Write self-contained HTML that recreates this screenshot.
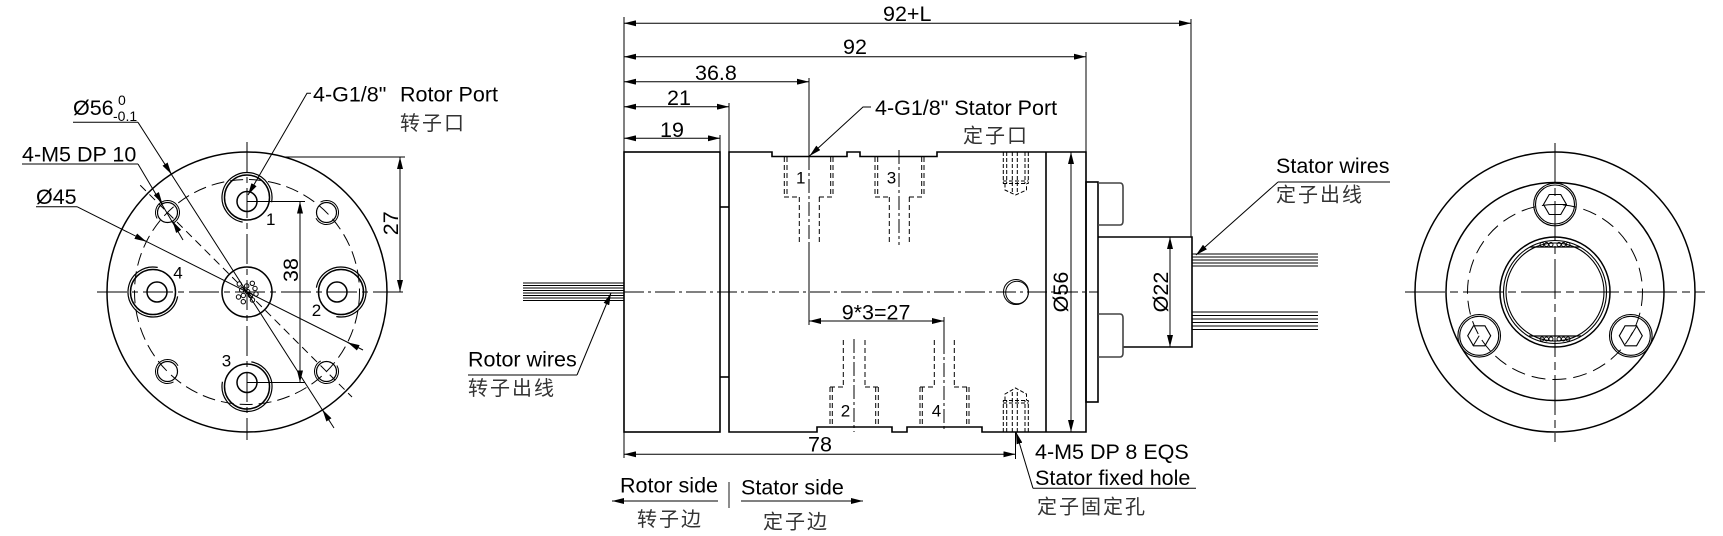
<!DOCTYPE html>
<html><head><meta charset="utf-8"><style>
html,body{margin:0;padding:0;background:#fff;}
svg{display:block;}
text{font-family:"Liberation Sans","Noto Sans CJK SC",sans-serif;fill:#000;}
.t{font-size:21.5px;}
.c{font-size:20px;fill:#333;letter-spacing:2px;}
.n{font-size:17px;}
.s{font-size:14px;}
</style></head><body>
<svg width="1723" height="536" viewBox="0 0 1723 536" xmlns="http://www.w3.org/2000/svg">
<defs>
<marker id="a" viewBox="0 0 12 6" refX="12" refY="3" markerWidth="12" markerHeight="6" orient="auto-start-reverse" markerUnits="userSpaceOnUse"><path d="M0,0L12,3L0,6z" fill="#000"/></marker>
</defs>

<!-- ================= LEFT VIEW ================= -->
<g fill="none" stroke="#000" stroke-width="1.5">
<circle cx="247" cy="292" r="140"/>
<circle cx="247" cy="292" r="25"/>
<circle cx="247" cy="292" r="112.5" stroke-width="1" stroke-dasharray="13 6"/>
<!-- ports -->
<circle cx="247" cy="201.5" r="10"/>
<circle cx="247" cy="197.5" r="22.5"/>
<circle cx="247" cy="197.5" r="25" stroke-width="1.2" stroke-dasharray="118 39.1" transform="rotate(100 247 197.5)"/>
<circle cx="337" cy="292" r="10"/>
<circle cx="341" cy="292" r="22.5"/>
<circle cx="341" cy="292" r="25" stroke-width="1.2" stroke-dasharray="118 39.1" transform="rotate(190 341 292)"/>
<circle cx="247" cy="382.5" r="10"/>
<circle cx="247" cy="386.5" r="22.5"/>
<circle cx="247" cy="386.5" r="25" stroke-width="1.2" stroke-dasharray="118 39.1" transform="rotate(280 247 386.5)"/>
<circle cx="157" cy="292" r="10"/>
<circle cx="153" cy="292" r="22.5"/>
<circle cx="153" cy="292" r="25" stroke-width="1.2" stroke-dasharray="118 39.1" transform="rotate(10 153 292)"/>
<!-- small holes -->
<circle cx="167.5" cy="212.5" r="10" stroke-width="1.2"/>
<circle cx="167.5" cy="212.5" r="12" stroke-width="1" stroke-dasharray="56.5 18.9" transform="rotate(150 167.5 212.5)"/>
<circle cx="326.5" cy="212.5" r="10" stroke-width="1.2"/>
<circle cx="326.5" cy="212.5" r="12" stroke-width="1" stroke-dasharray="56.5 18.9" transform="rotate(240 326.5 212.5)"/>
<circle cx="167.5" cy="371.5" r="10" stroke-width="1.2"/>
<circle cx="167.5" cy="371.5" r="12" stroke-width="1" stroke-dasharray="56.5 18.9" transform="rotate(60 167.5 371.5)"/>
<circle cx="326.5" cy="371.5" r="10" stroke-width="1.2"/>
<circle cx="326.5" cy="371.5" r="12" stroke-width="1" stroke-dasharray="56.5 18.9" transform="rotate(330 326.5 371.5)"/>
</g>
<!-- center wire cluster -->
<g fill="none" stroke="#000" stroke-width="1">
<circle cx="239.3" cy="284" r="2.2"/><circle cx="246.7" cy="286" r="2.2"/><circle cx="252.3" cy="283.3" r="2.2"/>
<circle cx="255" cy="288.5" r="2.2"/><circle cx="241.7" cy="290" r="2.2"/><circle cx="247.7" cy="291.7" r="2.2"/>
<circle cx="243.3" cy="295.5" r="2.2"/><circle cx="250.5" cy="295.5" r="2.2"/><circle cx="238.5" cy="297" r="2.2"/>
<circle cx="252.5" cy="300" r="2.2"/><circle cx="243.3" cy="301.7" r="2.2"/><circle cx="256" cy="294" r="2.2"/>
</g>
<g fill="none" stroke="#000" stroke-width="1">
<line x1="97" y1="292" x2="405" y2="292" stroke-dasharray="30 5 6 5"/>
<line x1="247" y1="142" x2="247" y2="440" stroke-dasharray="30 5 6 5"/>
<line x1="247" y1="292" x2="140" y2="185" stroke-dasharray="8 5"/>
<line x1="247" y1="292" x2="352" y2="397" stroke-dasharray="8 5"/>
<!-- dim 27 -->
<line x1="284" y1="157" x2="405" y2="157"/>
<line x1="400" y1="157" x2="400" y2="292" marker-start="url(#a)" marker-end="url(#a)"/>
<!-- dim 38 -->
<line x1="247" y1="201.5" x2="305" y2="201.5"/>
<line x1="247" y1="382.5" x2="305" y2="382.5"/>
<line x1="300" y1="201.5" x2="300" y2="382.5" marker-start="url(#a)" marker-end="url(#a)"/>
<!-- Ø56 leader -->
<line x1="73" y1="122.3" x2="138" y2="122.3"/>
<line x1="138" y1="122.3" x2="334" y2="428"/>
<line x1="165" y1="164" x2="171.5" y2="174.2" marker-end="url(#a)"/>
<line x1="329" y1="420" x2="322.5" y2="409.8" marker-end="url(#a)"/>
<!-- Ø45 leader -->
<line x1="36" y1="206.7" x2="77" y2="206.7"/>
<line x1="77" y1="206.7" x2="363" y2="350"/>
<line x1="135.7" y1="236.2" x2="146.4" y2="241.6" marker-end="url(#a)"/>
<line x1="358.3" y1="347.8" x2="347.6" y2="342.4" marker-end="url(#a)"/>
<!-- 4-M5 leader -->
<line x1="22" y1="164" x2="138" y2="164"/>
<line x1="138" y1="164" x2="183" y2="240"/>
<line x1="156.3" y1="193.6" x2="162.4" y2="203.9" marker-end="url(#a)"/>
<line x1="178.7" y1="231.4" x2="172.6" y2="221.1" marker-end="url(#a)"/>
<!-- rotor port leader -->
<polyline points="311,93.3 307,93.3 248,195" marker-end="url(#a)"/>
</g>
<text x="73" y="115" class="t">Ø56</text>
<text x="118" y="105" class="s">0</text>
<text x="113" y="121" class="s">-0.1</text>
<text x="22" y="161.7" class="t">4-M5 DP 10</text>
<text x="36" y="204" class="t">Ø45</text>
<text x="313" y="101.7" class="t">4-G1/8"</text>
<text x="400" y="101.7" class="t">Rotor Port</text>
<text x="400" y="130" class="c">转子口</text>
<text x="266" y="225" class="n">1</text>
<text x="311.7" y="316" class="n">2</text>
<text x="221.7" y="366.7" class="n">3</text>
<text x="173.3" y="278.3" class="n">4</text>
<text transform="translate(398,223.3) rotate(-90)" text-anchor="middle" class="t">27</text>
<text transform="translate(298,270) rotate(-90)" text-anchor="middle" class="t">38</text>

<!-- ================= MIDDLE VIEW ================= -->
<g fill="none" stroke="#000" stroke-width="1">
<line x1="624" y1="17" x2="624" y2="152"/>
<line x1="624" y1="23.3" x2="1191" y2="23.3" marker-start="url(#a)" marker-end="url(#a)"/>
<line x1="1191" y1="19" x2="1191" y2="237"/>
<line x1="624" y1="56.7" x2="1086" y2="56.7" marker-start="url(#a)" marker-end="url(#a)"/>
<line x1="1086" y1="52" x2="1086" y2="152"/>
<line x1="624" y1="81.7" x2="809" y2="81.7" marker-start="url(#a)" marker-end="url(#a)"/>
<line x1="809" y1="78" x2="809" y2="156"/>
<line x1="809" y1="156" x2="809" y2="245" stroke-dasharray="14 3 3 3"/>
<line x1="809" y1="245" x2="809" y2="325"/>
<line x1="624" y1="106.7" x2="729" y2="106.7" marker-start="url(#a)" marker-end="url(#a)"/>
<line x1="729" y1="103" x2="729" y2="152"/>
<line x1="624" y1="138.3" x2="720" y2="138.3" marker-start="url(#a)" marker-end="url(#a)"/>
<line x1="720" y1="135" x2="720" y2="152"/>
<!-- 9*3=27 -->
<line x1="809" y1="321" x2="944" y2="321" marker-start="url(#a)" marker-end="url(#a)"/>
<line x1="944" y1="317" x2="944" y2="340"/>
<!-- 78 -->
<line x1="624" y1="432" x2="624" y2="458"/>
<line x1="1015.5" y1="432" x2="1015.5" y2="459"/>
<line x1="624" y1="454.3" x2="1015.5" y2="454.3" marker-start="url(#a)" marker-end="url(#a)"/>
<!-- Ø56 / Ø22 -->
<line x1="1071" y1="152" x2="1071" y2="432" marker-start="url(#a)" marker-end="url(#a)"/>
<line x1="1170" y1="237" x2="1170" y2="347" marker-start="url(#a)" marker-end="url(#a)"/>
<!-- centerline -->
<line x1="624" y1="292" x2="1098" y2="292" stroke-dasharray="20 4 3 4"/>
<!-- rotor wires -->
<line x1="523" y1="283" x2="624" y2="283"/>
<line x1="523" y1="285.5" x2="624" y2="285.5"/>
<line x1="523" y1="288" x2="624" y2="288"/>
<line x1="523" y1="290.5" x2="624" y2="290.5"/>
<line x1="523" y1="293" x2="624" y2="293"/>
<line x1="523" y1="295.5" x2="624" y2="295.5"/>
<line x1="523" y1="298" x2="624" y2="298"/>
<line x1="523" y1="300.5" x2="624" y2="300.5"/>
<!-- stator wires -->
<line x1="1192" y1="254" x2="1318" y2="254"/>
<line x1="1192" y1="257" x2="1318" y2="257"/>
<line x1="1192" y1="260" x2="1318" y2="260"/>
<line x1="1192" y1="263" x2="1318" y2="263"/>
<line x1="1192" y1="266" x2="1318" y2="266"/>
<line x1="1192" y1="312" x2="1318" y2="312"/>
<line x1="1192" y1="315.5" x2="1318" y2="315.5"/>
<line x1="1192" y1="319" x2="1318" y2="319"/>
<line x1="1192" y1="322.5" x2="1318" y2="322.5"/>
<line x1="1192" y1="326" x2="1318" y2="326"/>
<line x1="1192" y1="329.5" x2="1318" y2="329.5"/>
<!-- leaders -->
<polyline points="871,107 863,107 809.5,156" marker-end="url(#a)"/>
<line x1="1278" y1="182" x2="1390" y2="182"/>
<line x1="1278" y1="182" x2="1196" y2="255" marker-end="url(#a)"/>
<line x1="468" y1="375" x2="577" y2="375"/>
<line x1="577" y1="375" x2="611" y2="293" marker-end="url(#a)"/>
<line x1="1033" y1="488.3" x2="1196" y2="488.3"/>
<line x1="1033" y1="488.3" x2="1016" y2="432" marker-end="url(#a)"/>
<!-- side arrows -->
<line x1="612" y1="501" x2="718" y2="501" marker-start="url(#a)"/>
<line x1="741" y1="501" x2="863" y2="501" marker-end="url(#a)"/>
<line x1="729" y1="482" x2="729" y2="508" stroke="#666" stroke-width="1.5"/>
</g>

<g fill="none" stroke="#000" stroke-width="1.6">
<rect x="624" y="152" width="96" height="280"/>
<path d="M729,152 H772 V156.5 H847 V152 H860 V156.5 H937 V152 H1086 V432 H982 V427 H907 V432 H892 V427 H817 V432 H729 Z"/>
<line x1="720" y1="207" x2="729" y2="207"/>
<line x1="720" y1="377" x2="729" y2="377"/>
<line x1="1046" y1="152" x2="1046" y2="432"/>
<rect x="1086" y="182" width="12" height="220"/>
<path d="M1098,237 H1192 V347 H1123"/>
<path d="M1098,183 H1120 Q1123,183 1123,187 V221 Q1123,225 1120,225 H1098" stroke="#444"/>
<path d="M1098,314 H1120 Q1123,314 1123,318 V353 Q1123,357 1120,357 H1098" stroke="#444"/>
</g>
<g fill="none" stroke="#000" stroke-width="1">
<circle cx="1016" cy="292" r="12.5"/>
<circle cx="1017" cy="292.5" r="11.3"/>
</g>

<!-- hidden lines: ports -->
<g fill="none" stroke="#000" stroke-width="1" stroke-dasharray="5 3">
<path d="M784.3,157V197 M787,157V197 M830.7,157V197 M833,157V197 M784,197H799 M819,197H833 M799.3,197V245 M819.3,197V245"/>
<path d="M875,157V197 M877.7,157V197 M921.7,157V197 M924,157V197 M875,197H889 M909,197H924 M889.3,197V245 M909.3,197V245"/>
<path d="M830,387V427 M832.3,387V427 M875.7,387V427 M878.3,387V427 M830,387H843 M865,387H878 M843.3,340V387 M865,340V387"/>
<path d="M920,387V427 M922.3,387V427 M966.7,387V427 M969,387V427 M920,387H934 M954,387H969 M934.3,340V387 M954.3,340V387"/>
</g>
<g fill="none" stroke="#000" stroke-width="1" stroke-dasharray="14 3 3 3">
<line x1="899" y1="150" x2="899" y2="245"/>
<line x1="854" y1="339" x2="854" y2="432"/>
<line x1="944" y1="340" x2="944" y2="432"/>
</g>
<!-- M5 holes -->
<g fill="none" stroke="#000" stroke-width="1" stroke-dasharray="4 2">
<path d="M1003.3,152V183.5 M1006.7,152V183.5 M1025,152V183.5 M1028.3,152V183.5 M1003,181H1028.5 M1003,183.5H1028.5 M1005,183.5V190L1015.5,195L1026.5,190V183.5 M1012.3,152V192 M1017.3,152V192"/>
<path d="M1003.3,432V400.5 M1006.7,432V400.5 M1025,432V400.5 M1028.3,432V400.5 M1003,403H1028.5 M1003,400.5H1028.5 M1005,400.5V394L1015.5,388L1026.5,394V400.5 M1012.3,432V392 M1017.3,432V392"/>
</g>

<text x="883" y="21" class="t">92+L</text>
<text x="843" y="54" class="t">92</text>
<text x="695" y="80" class="t">36.8</text>
<text x="667" y="105" class="t">21</text>
<text x="660" y="137" class="t">19</text>
<text x="875" y="115" class="t">4-G1/8" Stator Port</text>
<text x="963" y="142.5" class="c">定子口</text>
<text x="796" y="183.3" class="n">1</text>
<text x="886.7" y="183.3" class="n">3</text>
<text x="840.7" y="416.7" class="n">2</text>
<text x="931.7" y="416.7" class="n">4</text>
<text x="841.7" y="319.5" class="t">9*3=27</text>
<text transform="translate(1068,292) rotate(-90)" text-anchor="middle" class="t">Ø56</text>
<text transform="translate(1168,292) rotate(-90)" text-anchor="middle" class="t">Ø22</text>
<text x="1276" y="173" class="t">Stator wires</text>
<text x="1276" y="201.5" class="c">定子出线</text>
<text x="468" y="366.7" class="t">Rotor wires</text>
<text x="468" y="395" class="c">转子出线</text>
<text x="808" y="451.7" class="t">78</text>
<text x="620" y="492.5" class="t">Rotor side</text>
<text x="637" y="526" class="c">转子边</text>
<text x="741" y="494.5" class="t">Stator side</text>
<text x="763" y="528.5" class="c">定子边</text>
<text x="1035" y="459" class="t">4-M5 DP 8 EQS</text>
<text x="1035" y="485" class="t">Stator fixed hole</text>
<text x="1037" y="513.5" class="c">定子固定孔</text>

<!-- ================= RIGHT VIEW ================= -->
<g fill="none" stroke="#000" stroke-width="1.5">
<circle cx="1555" cy="292" r="140"/>
<circle cx="1555" cy="291.5" r="109"/>
<circle cx="1555" cy="292" r="87.5" stroke-width="1" stroke-dasharray="14 7"/>
<circle cx="1555" cy="292" r="55"/>
<circle cx="1555" cy="292" r="51.5" stroke-width="1.1"/>
<circle cx="1555" cy="292" r="49" stroke-width="1.1"/>
<line x1="1530" y1="247" x2="1580" y2="247" stroke-width="1.2"/>
<line x1="1529" y1="336" x2="1581" y2="336" stroke-width="1.2"/>
<!-- bolts -->
<circle cx="1555" cy="204.5" r="21.3" stroke-width="1.1"/>
<circle cx="1555" cy="204.5" r="19.5" stroke-width="1.1"/>
<polygon points="1543.5,204.5 1549.25,194.5 1560.75,194.5 1566.5,204.5 1560.75,214.5 1549.25,214.5" stroke-width="1.1"/>
<circle cx="1479.2" cy="335.8" r="21.3" stroke-width="1.1"/>
<circle cx="1479.2" cy="335.8" r="19.5" stroke-width="1.1"/>
<polygon points="1467.7,335.8 1473.45,325.8 1484.95,325.8 1490.7,335.8 1484.95,345.8 1473.45,345.8" stroke-width="1.1"/>
<circle cx="1630.8" cy="335.8" r="21.3" stroke-width="1.1"/>
<circle cx="1630.8" cy="335.8" r="19.5" stroke-width="1.1"/>
<polygon points="1619.3,335.8 1625.05,325.8 1636.55,325.8 1642.3,335.8 1636.55,345.8 1625.05,345.8" stroke-width="1.1"/>
</g>
<g fill="none" stroke="#000" stroke-width="0.9">
<circle cx="1542" cy="244.5" r="2"/><circle cx="1546.5" cy="244.5" r="2"/><circle cx="1551" cy="244.5" r="2"/>
<circle cx="1559" cy="244.5" r="2"/><circle cx="1563.5" cy="244.5" r="2"/><circle cx="1568" cy="244.5" r="2"/>
<circle cx="1542" cy="339" r="2"/><circle cx="1546.5" cy="339" r="2"/><circle cx="1551" cy="339" r="2"/>
<circle cx="1559" cy="339" r="2"/><circle cx="1563.5" cy="339" r="2"/><circle cx="1568" cy="339" r="2"/>
</g>
<g fill="none" stroke="#000" stroke-width="1">
<line x1="1405" y1="292" x2="1705" y2="292" stroke-dasharray="40 5 8 5"/>
<line x1="1555" y1="143" x2="1555" y2="442" stroke-dasharray="40 5 8 5"/>
<line x1="1555" y1="204.5" x2="1567" y2="204.5"/>
<line x1="1479.2" y1="335.8" x2="1473" y2="346"/>
<line x1="1630.8" y1="335.8" x2="1637" y2="325.5"/>
</g>
</svg>
</body></html>
